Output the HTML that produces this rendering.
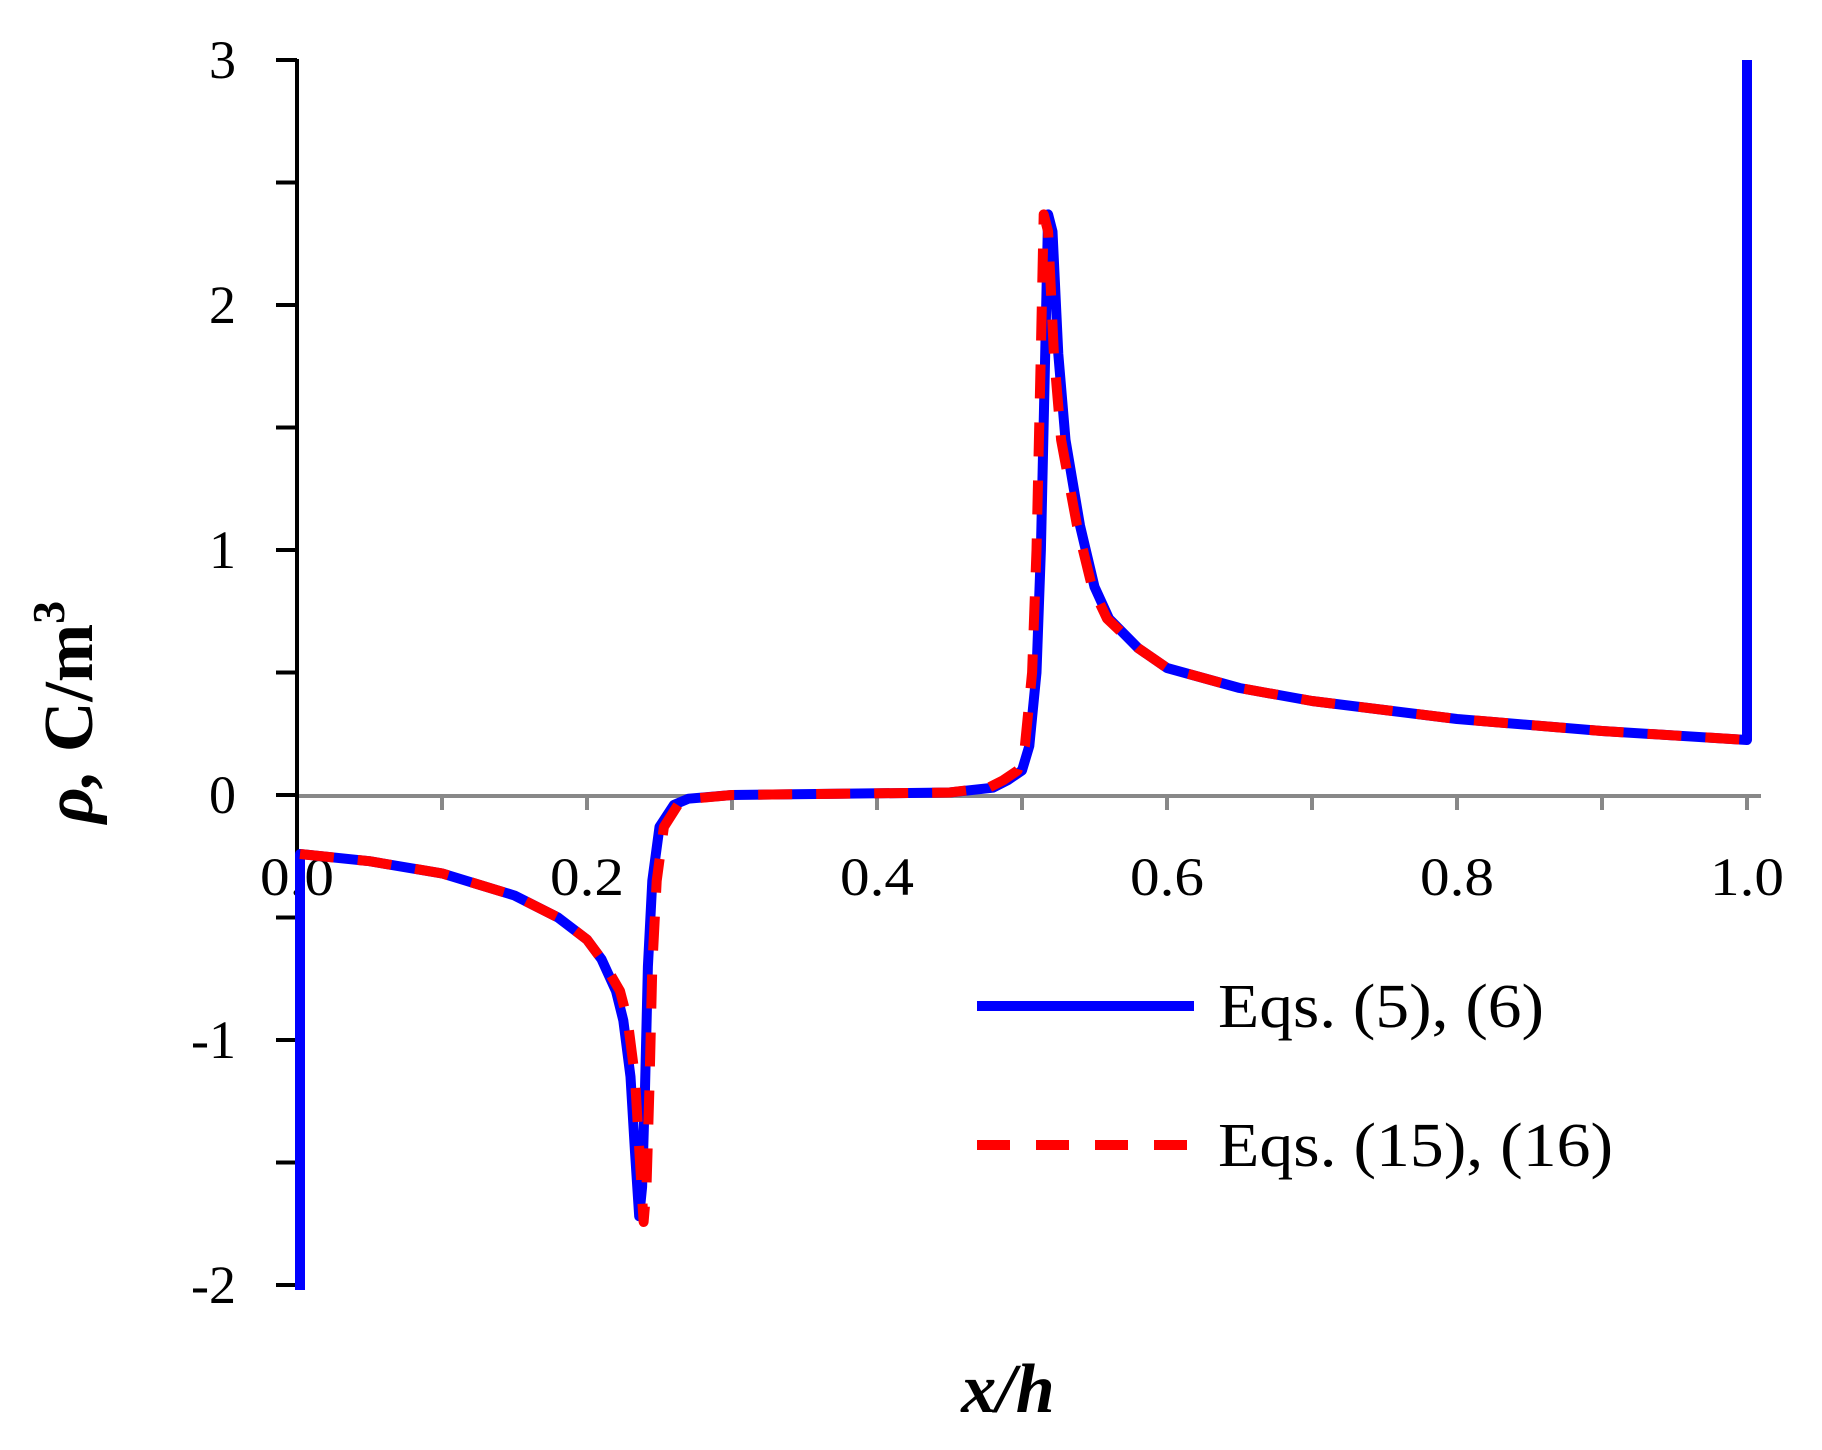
<!DOCTYPE html>
<html><head><meta charset="utf-8"><style>
html,body{margin:0;padding:0;background:#fff}
svg{display:block}
text{font-family:"Liberation Serif",serif;fill:#000}
</style></head><body>
<svg width="1822" height="1450" viewBox="0 0 1822 1450" xmlns="http://www.w3.org/2000/svg">
<rect width="1822" height="1450" fill="#fff"/>
<line x1="297" y1="796" x2="1761" y2="796" stroke="#888" stroke-width="4"/>
<g stroke="#888" stroke-width="4">
<line x1="442" y1="796" x2="442" y2="810"/><line x1="587" y1="796" x2="587" y2="810"/>
<line x1="732" y1="796" x2="732" y2="810"/><line x1="877" y1="796" x2="877" y2="810"/>
<line x1="1022" y1="796" x2="1022" y2="810"/><line x1="1167" y1="796" x2="1167" y2="810"/>
<line x1="1312" y1="796" x2="1312" y2="810"/><line x1="1457" y1="796" x2="1457" y2="810"/>
<line x1="1602" y1="796" x2="1602" y2="810"/><line x1="1747" y1="796" x2="1747" y2="810"/>
</g>
<line x1="297" y1="59" x2="297" y2="1288" stroke="#000" stroke-width="4"/>
<g stroke="#000" stroke-width="4">
<line x1="276" y1="60" x2="297" y2="60"/><line x1="276" y1="182.5" x2="297" y2="182.5"/>
<line x1="276" y1="305" x2="297" y2="305"/><line x1="276" y1="427.5" x2="297" y2="427.5"/>
<line x1="276" y1="550" x2="297" y2="550"/><line x1="276" y1="672.5" x2="297" y2="672.5"/>
<line x1="276" y1="795" x2="297" y2="795"/><line x1="276" y1="917.5" x2="297" y2="917.5"/>
<line x1="276" y1="1040" x2="297" y2="1040"/><line x1="276" y1="1162.5" x2="297" y2="1162.5"/>
<line x1="276" y1="1285" x2="297" y2="1285"/>
</g>
<g font-size="54" text-anchor="end">
<text x="236" y="78">3</text><text x="236" y="323">2</text><text x="236" y="568">1</text>
<text x="236" y="813">0</text><text x="236" y="1058">-1</text><text x="236" y="1303">-2</text>
</g>
<g font-size="54" text-anchor="middle">
<text x="297" y="895" textLength="74" lengthAdjust="spacingAndGlyphs">0.0</text>
<text x="587" y="895" textLength="74" lengthAdjust="spacingAndGlyphs">0.2</text>
<text x="877" y="895" textLength="74" lengthAdjust="spacingAndGlyphs">0.4</text>
<text x="1167" y="895" textLength="74" lengthAdjust="spacingAndGlyphs">0.6</text>
<text x="1457" y="895" textLength="74" lengthAdjust="spacingAndGlyphs">0.8</text>
<text x="1747" y="895" textLength="74" lengthAdjust="spacingAndGlyphs">1.0</text>
</g>
<text transform="translate(92,712) rotate(-90)" font-size="70" font-weight="bold" text-anchor="middle"><tspan font-style="italic">ρ,</tspan> C/m<tspan font-size="46" dy="-28">3</tspan></text>
<text x="1008" y="1412" font-size="70" font-weight="bold" font-style="italic" text-anchor="middle">x/h</text>
<path fill="none" stroke="#0000ff" stroke-width="10" stroke-linejoin="round" d="M300,1290 L300,854 L369.5,861.2 L442,873.4 L514.5,895.5 L558,917.5 L587,939.6 L601.5,959.2 L616,991 L623.3,1020.4 L630.5,1076.8 L634.9,1150.3 L639.2,1216.4 L642.1,1187 L645,1089 L647.9,966.5 L652.3,880.8 L659.5,826.9 L674,804.8 L688.5,798.7 L732,795 L949.5,792.5 L993,787.7 L1007.5,780.3 L1022,770.5 L1029.3,746 L1036.5,672.5 L1040.9,550 L1045.2,354 L1048.1,214.4 L1052.5,231.5 L1058.3,354 L1065.5,439.8 L1080,525.5 L1094.5,586.8 L1109,618.6 L1138,648 L1167,668 L1239.5,688 L1312,701 L1457,719 L1602,731 L1747,740 L1747,60"/>
<path fill="none" stroke="#ff0000" stroke-width="10" stroke-linejoin="round" stroke-dasharray="34 24" d="M300,854 L369.5,861.2 L442,873.4 L514.5,895.5 L558,917.5 L587,939.6 L601.5,959.2 L620,991 L627.7,1020.4 L634.9,1076.8 L639.3,1150.3 L643.6,1222 L646.5,1187 L649.4,1089 L652.3,966.5 L656.7,880.8 L663.9,826.9 L678,804.8 L692,798.7 L732,795 L949.5,792.5 L988.6,787.7 L1003.1,780.3 L1017.6,770.5 L1024.9,746 L1032.1,672.5 L1036.5,550 L1040.8,354 L1043.7,214.4 L1048.1,231.5 L1053.9,354 L1061.1,439.8 L1077,525.5 L1092,586.8 L1107,618.6 L1138,648 L1167,668 L1239.5,688 L1312,701 L1457,719 L1602,731 L1747,740"/>
<line x1="977" y1="1006" x2="1194" y2="1006" stroke="#0000ff" stroke-width="10"/>
<line x1="977" y1="1145" x2="1194" y2="1145" stroke="#ff0000" stroke-width="10" stroke-dasharray="33 26"/>
<text x="1218" y="1027" font-size="62" textLength="326" lengthAdjust="spacingAndGlyphs">Eqs. (5), (6)</text>
<text x="1218" y="1166" font-size="62" textLength="395" lengthAdjust="spacingAndGlyphs">Eqs. (15), (16)</text>
</svg>
</body></html>
